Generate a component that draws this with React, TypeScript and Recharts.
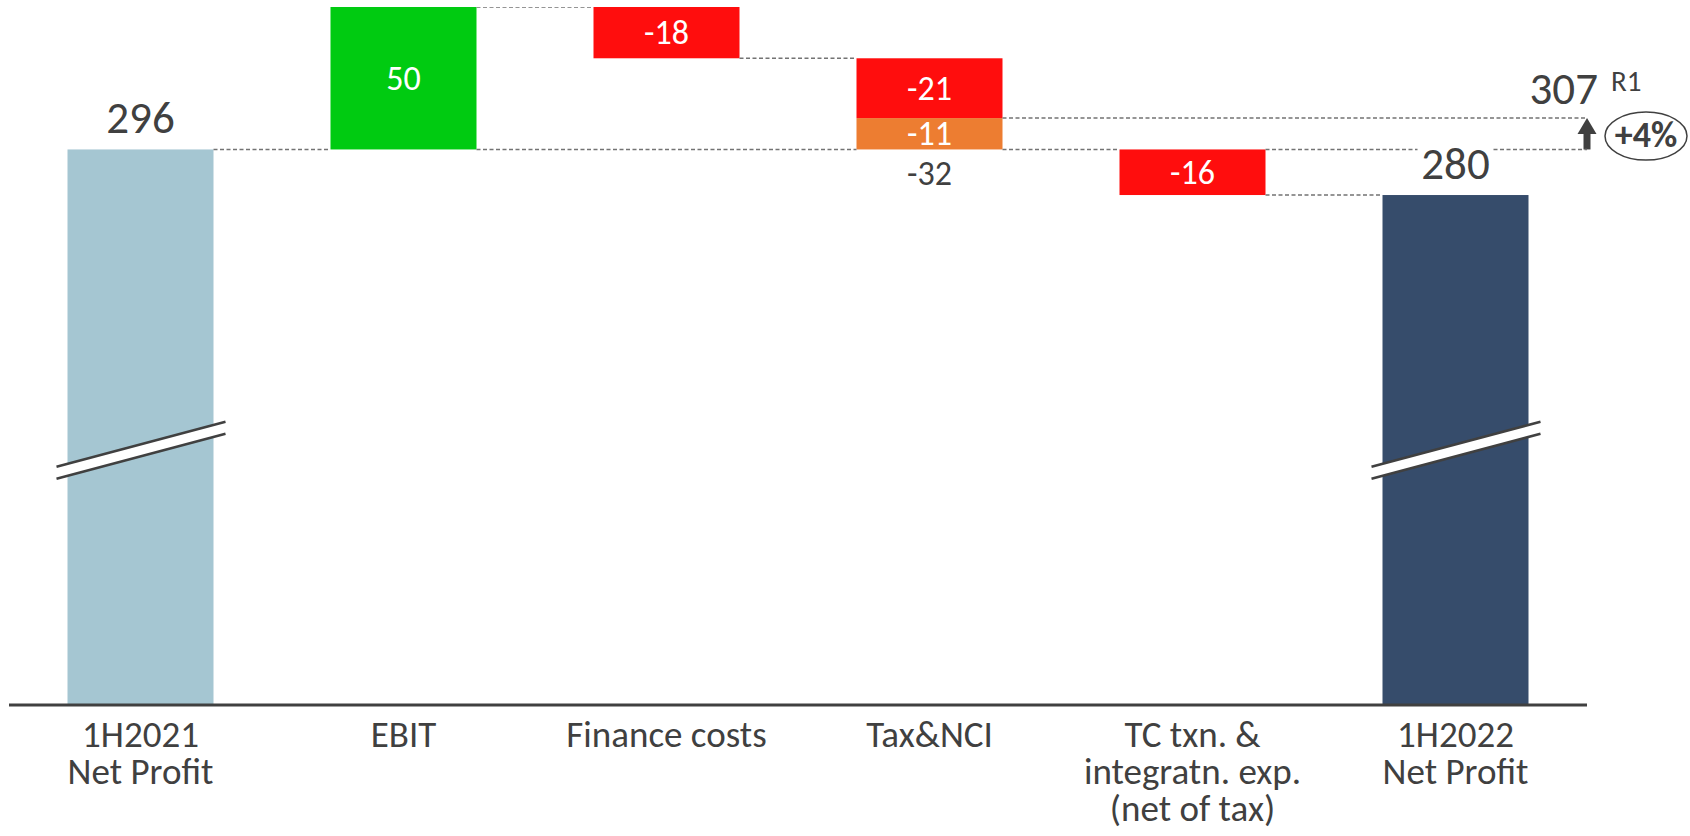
import React from 'react';
import { BarChart, Bar, XAxis, YAxis } from 'recharts';

const categories = [
  '1H2021\nNet Profit',
  'EBIT',
  'Finance costs',
  'Tax&NCI',
  'TC txn. &\nintegratn. exp.\n(net of tax)',
  '1H2022\nNet Profit',
];
const totals = [296, null, null, null, null, 280];
const mainChanges = [null, 50, -18, -21, -16, null];
const extraChanges = [null, null, null, -11, null, null];
const adjustedValue = 307;
const adjustedNote = 'R1';
const growthLabel = '+4%';

const FONT = 'Calibri, Carlito, Lato, sans-serif';
const TEXT = '#404040';
const BLUE = '#A5C6D2';
const DARK = '#364C6B';
const GREEN = '#00CB11';
const RED = '#FF0D0D';
const ORANGE = '#ED7D31';
const DASH = '#737373';

const W = 1690;
const H = 836;
const X_AXIS_H = 30;
const MARGIN = { top: 7, right: 103, bottom: 101, left: 9 };
const PLOT_RIGHT = W - MARGIN.right;
const PLOT_TOP = MARGIN.top;
const PLOT_H = H - MARGIN.top - MARGIN.bottom - X_AXIS_H;
const BAND = (W - MARGIN.left - MARGIN.right) / categories.length;

// running level -> invisible base + coloured segments
let level = 0;
const rows = categories.map((name, idx) => {
  const t = totals[idx];
  if (t != null) {
    level = t;
    return { idx, name, base: 0, total: t, extra: 0, neg: 0, pos: 0, main: 0, extraVal: 0, change: 0 };
  }
  const main = mainChanges[idx] ?? 0;
  const extra = extraChanges[idx] ?? 0;
  const end = level + main + extra;
  const row = {
    idx,
    name,
    base: Math.min(level, end),
    total: 0,
    extra: Math.abs(extra),
    neg: main < 0 ? -main : 0,
    pos: main > 0 ? main : 0,
    main,
    extraVal: extra,
    change: main + extra,
  };
  level = end;
  return row;
});

const Dash = ({ x1, x2, y }: { x1: number; x2: number; y: number }) => (
  <line x1={x1} x2={x2} y1={y} y2={y} stroke={DASH} strokeWidth={1.5} strokeDasharray="4 2.5" />
);

const InLabel = ({ cx, cy, v }: { cx: number; cy: number; v: number }) => (
  <text x={cx} y={cy} textAnchor="middle" dominantBaseline="central" fill="#fff" fontSize={34} fontFamily={FONT}>
    {v}
  </text>
);

const TotalShape = (p: any) => {
  const { x, y, width, height, payload } = p;
  if (!height) return null;
  const i = payload.idx;
  const cx = x + width / 2;
  const gap = BAND - width;
  const breakY = PLOT_TOP + PLOT_H * 0.635;
  const x0 = x - 11;
  const x1 = x + width + 12;
  const drop = ((x1 - x0) / 2) * 0.266;
  return (
    <g>
      <rect x={x} y={y} width={width} height={height} fill={i === 0 ? BLUE : DARK} />
      <polygon
        points={`${x0},${breakY - 6 + drop} ${x1},${breakY - 6 - drop} ${x1},${breakY + 6 - drop} ${x0},${breakY + 6 + drop}`}
        fill="#fff"
      />
      <line x1={x0} y1={breakY - 6 + drop} x2={x1} y2={breakY - 6 - drop} stroke={TEXT} strokeWidth={2.5} />
      <line x1={x0} y1={breakY + 6 + drop} x2={x1} y2={breakY + 6 - drop} stroke={TEXT} strokeWidth={2.5} />
      {i === 0 && <Dash x1={x + width} x2={x + width + gap} y={y} />}
      <text x={cx} y={y - 32} textAnchor="middle" dominantBaseline="central" fill={TEXT} fontSize={45} fontFamily={FONT}>
        {payload.total}
      </text>
    </g>
  );
};

const PosShape = (p: any) => {
  const { x, y, width, height, payload } = p;
  if (!height) return null;
  const gap = BAND - width;
  return (
    <g>
      <rect x={x} y={y} width={width} height={height} fill={GREEN} />
      <Dash x1={x + width} x2={x + width + gap} y={y} />
      <Dash x1={x + width} x2={x + width + gap + BAND} y={y + height} />
      <InLabel cx={x + width / 2} cy={y + height / 2} v={payload.main} />
    </g>
  );
};

const NegShape = (p: any) => {
  const { x, y, width, height, payload } = p;
  if (!height) return null;
  const i = payload.idx;
  const gap = BAND - width;
  const right = x + width;
  const nextCx = x + width / 2 + BAND;
  return (
    <g>
      <rect x={x} y={y} width={width} height={height} fill={RED} />
      {i === 2 && <Dash x1={right} x2={right + gap} y={y + height} />}
      {i === 3 && <Dash x1={right} x2={PLOT_RIGHT} y={y + height} />}
      {i === 4 && (
        <g>
          <Dash x1={right} x2={nextCx - 38} y={y} />
          <Dash x1={nextCx + 38} x2={PLOT_RIGHT} y={y} />
          <Dash x1={right} x2={right + gap} y={y + height} />
        </g>
      )}
      <InLabel cx={x + width / 2} cy={y + height / 2} v={payload.main} />
    </g>
  );
};

const ExtraShape = (p: any) => {
  const { x, y, width, height, payload } = p;
  if (!height) return null;
  const gap = BAND - width;
  const right = x + width;
  const bottom = y + height;
  const ax = PLOT_RIGHT;
  return (
    <g>
      <rect x={x} y={y} width={width} height={height} fill={ORANGE} />
      <Dash x1={right} x2={right + gap} y={bottom} />
      <InLabel cx={x + width / 2} cy={y + height / 2} v={payload.extraVal} />
      <text x={x + width / 2} y={bottom + 24} textAnchor="middle" dominantBaseline="central" fill={TEXT} fontSize={34} fontFamily={FONT}>
        {payload.change}
      </text>
      {/* adjusted level annotation */}
      <rect x={ax - 3.5} y={y + 15} width={7} height={height - 15} fill={TEXT} />
      <polygon points={`${ax},${y} ${ax - 9.5},${y + 16} ${ax + 9.5},${y + 16}`} fill={TEXT} />
      <text x={ax + 11} y={y - 14} textAnchor="end" fill={TEXT} fontSize={45} fontFamily={FONT}>
        {adjustedValue}
      </text>
      <text x={ax + 24} y={y - 27} fill={TEXT} fontSize={29} fontFamily={FONT}>
        {adjustedNote}
      </text>
      <ellipse cx={ax + 59} cy={y + 18} rx={41} ry={24} fill="#fff" stroke={TEXT} strokeWidth={1.5} />
      <text x={ax + 59} y={y + 17} textAnchor="middle" dominantBaseline="central" fill={TEXT} fontSize={36} fontWeight="bold" fontFamily={FONT}>
        {growthLabel}
      </text>
    </g>
  );
};

const CategoryTick = ({ x, y, payload }: any) => {
  const lines = String(payload.value).split('\n');
  return (
    <text x={x} textAnchor="middle" fill={TEXT} fontSize={37} fontFamily={FONT}>
      {lines.map((l, i) => (
        <tspan key={i} x={x} y={y + 42 + i * 37}>
          {l}
        </tspan>
      ))}
    </text>
  );
};

export default function App() {
  return (
    <div style={{ position: 'absolute', left: 0, top: 0, width: W, height: H, background: '#fff' }}>
      <BarChart width={W} height={H} data={rows} margin={MARGIN} barCategoryGap={58.5}>
        <XAxis
          dataKey="name"
          interval={0}
          height={X_AXIS_H}
          tickLine={false}
          tickSize={0}
          tickMargin={0}
          axisLine={{ stroke: TEXT, strokeWidth: 3 }}
          tick={<CategoryTick />}
        />
        <YAxis hide domain={[101, 346]} allowDataOverflow type="number" />
        <Bar dataKey="base" stackId="w" fill="transparent" isAnimationActive={false} />
        <Bar dataKey="total" stackId="w" shape={TotalShape} isAnimationActive={false} />
        <Bar dataKey="extra" stackId="w" shape={ExtraShape} isAnimationActive={false} />
        <Bar dataKey="neg" stackId="w" shape={NegShape} isAnimationActive={false} />
        <Bar dataKey="pos" stackId="w" shape={PosShape} isAnimationActive={false} />
      </BarChart>
    </div>
  );
}
